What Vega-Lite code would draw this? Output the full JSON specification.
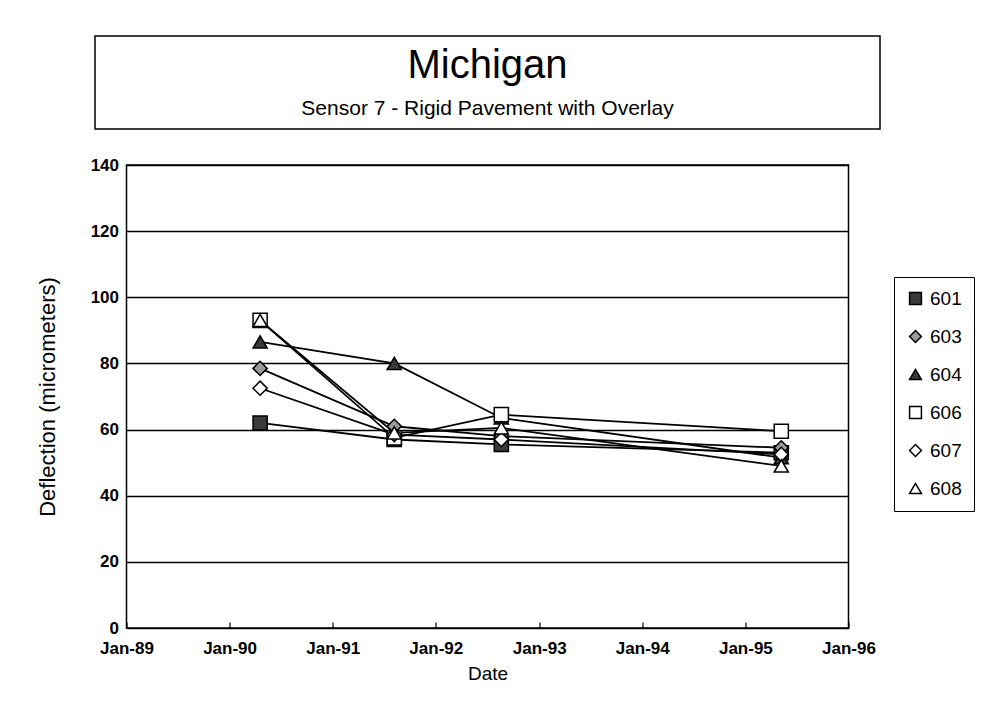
{
  "$schema": "https://vega.github.io/schema/vega-lite/v6.json",
  "padding": {"left": 35, "top": 35, "right": 5, "bottom": 5},
  "background": "white",
  "config": {
    "font": "Liberation Sans",
    "view": {"stroke": "black", "strokeWidth": 1.5},
    "axis": {"labelFont": "Liberation Sans", "titleFont": "Liberation Sans", "labelColor": "black", "titleColor": "black", "titleFontWeight": "normal", "labelFontWeight": "bold", "domainColor": "black", "tickColor": "black"},
    "legend": {"labelFont": "Liberation Sans", "labelColor": "black"}
  },
  "spacing": 36,
  "bounds": "flush",
  "center": true,
  "vconcat": [
    {
      "width": 785,
      "height": 93,
      "data": {"values": [
        {"part": "title", "text": "Michigan"},
        {"part": "subtitle", "text": "Sensor 7 - Rigid Pavement with Overlay"}
      ]},
      "layer": [
        {
          "transform": [{"filter": "datum.part === 'title'"}],
          "mark": {"type": "text", "fontSize": 40, "font": "Liberation Sans", "color": "black", "dy": 7, "baseline": "middle"},
          "encoding": {
            "y": {"field": "part", "type": "nominal", "scale": {"type": "point", "domain": ["title", "subtitle"], "padding": 0.5}, "axis": null},
            "text": {"field": "text", "type": "nominal"}
          }
        },
        {
          "transform": [{"filter": "datum.part === 'subtitle'"}],
          "mark": {"type": "text", "fontSize": 21, "font": "Liberation Sans", "color": "black", "dy": 3, "baseline": "middle"},
          "encoding": {
            "y": {"field": "part", "type": "nominal", "scale": {"type": "point", "domain": ["title", "subtitle"], "padding": 0.5}, "axis": null},
            "text": {"field": "text", "type": "nominal"}
          }
        }
      ]
    },
    {
      "width": 722,
      "height": 463,
      "data": {"values": [
        {"sensor": "601", "date": "1990-04-19", "deflection": 62},
        {"sensor": "601", "date": "1991-08-07", "deflection": 57},
        {"sensor": "601", "date": "1992-08-20", "deflection": 55.5},
        {"sensor": "601", "date": "1995-05-08", "deflection": 53},
        {"sensor": "603", "date": "1990-04-19", "deflection": 78.5},
        {"sensor": "603", "date": "1991-08-07", "deflection": 61},
        {"sensor": "603", "date": "1992-08-20", "deflection": 58},
        {"sensor": "603", "date": "1995-05-08", "deflection": 54.5},
        {"sensor": "604", "date": "1990-04-19", "deflection": 86.5},
        {"sensor": "604", "date": "1991-08-07", "deflection": 80},
        {"sensor": "604", "date": "1992-08-20", "deflection": 63.5},
        {"sensor": "604", "date": "1995-05-08", "deflection": 51.5},
        {"sensor": "606", "date": "1990-04-19", "deflection": 93},
        {"sensor": "606", "date": "1991-08-07", "deflection": 57.5},
        {"sensor": "606", "date": "1992-08-20", "deflection": 64.5},
        {"sensor": "606", "date": "1995-05-08", "deflection": 59.5},
        {"sensor": "607", "date": "1990-04-19", "deflection": 72.5},
        {"sensor": "607", "date": "1991-08-07", "deflection": 58.5},
        {"sensor": "607", "date": "1992-08-20", "deflection": 57},
        {"sensor": "607", "date": "1995-05-08", "deflection": 52.5},
        {"sensor": "608", "date": "1990-04-19", "deflection": 93},
        {"sensor": "608", "date": "1991-08-07", "deflection": 59},
        {"sensor": "608", "date": "1992-08-20", "deflection": 60.5},
        {"sensor": "608", "date": "1995-05-08", "deflection": 49}
      ]},
      "encoding": {
        "x": {
          "field": "date", "type": "temporal",
          "scale": {"type": "utc", "domain": [{"year": 1989, "month": 1, "date": 1, "utc": true}, {"year": 1996, "month": 1, "date": 1, "utc": true}]},
          "axis": {
            "title": "Date", "titleFontSize": 19, "titlePadding": 8,
            "labelFontSize": 17, "labelPadding": 18, "labelFlush": false,
            "labelExpr": "utcFormat(datum.value, '%b-%y')",
            "values": [
              {"year": 1989, "month": 1, "date": 1, "utc": true},
              {"year": 1990, "month": 1, "date": 1, "utc": true},
              {"year": 1991, "month": 1, "date": 1, "utc": true},
              {"year": 1992, "month": 1, "date": 1, "utc": true},
              {"year": 1993, "month": 1, "date": 1, "utc": true},
              {"year": 1994, "month": 1, "date": 1, "utc": true},
              {"year": 1995, "month": 1, "date": 1, "utc": true},
              {"year": 1996, "month": 1, "date": 1, "utc": true}
            ],
            "grid": false, "domain": false, "tickSize": -6, "tickWidth": 1.2
          }
        },
        "y": {
          "field": "deflection", "type": "quantitative",
          "scale": {"domain": [0, 140]},
          "axis": {
            "title": "Deflection (micrometers)", "titleFontSize": 22, "titlePadding": 31,
            "labelFontSize": 17, "labelPadding": 8,
            "values": [0, 20, 40, 60, 80, 100, 120, 140],
            "grid": true, "gridColor": "black", "gridWidth": 1.5, "gridOpacity": 1,
            "ticks": false, "domain": false
          }
        }
      },
      "layer": [
        {
          "mark": {"type": "line", "color": "black", "strokeWidth": 1.8},
          "encoding": {"detail": {"field": "sensor", "type": "nominal"}}
        },
        {
          "mark": {"type": "point", "filled": true, "size": 200, "stroke": "black", "strokeWidth": 1.5, "opacity": 1},
          "encoding": {
            "shape": {
              "field": "sensor", "type": "nominal",
              "scale": {"domain": ["601", "603", "604", "606", "607", "608"], "range": ["square", "diamond", "triangle-up", "square", "diamond", "triangle-up"]},
              "legend": {"orient": "none", "legendX": 799, "legendY": 241, "title": null, "strokeColor": "black", "fillColor": "white", "padding": 12, "labelFontSize": 19, "symbolSize": 140, "rowPadding": 18, "labelOffset": 5,
                "encode": {"symbols": {"update": {"stroke": {"value": "black"}, "strokeWidth": {"value": 1.5}}}}}
            },
            "fill": {
              "field": "sensor", "type": "nominal",
              "scale": {"domain": ["601", "603", "604", "606", "607", "608"], "range": ["#3a3a3a", "#9a9a9a", "#3a3a3a", "white", "white", "white"]},
              "legend": {"orient": "none", "legendX": 799, "legendY": 241, "title": null, "strokeColor": "black", "fillColor": "white", "padding": 12, "labelFontSize": 19, "symbolSize": 140, "rowPadding": 18, "labelOffset": 5,
                "encode": {"symbols": {"update": {"stroke": {"value": "black"}, "strokeWidth": {"value": 1.5}}}}}
            }
          }
        }
      ]
    }
  ]
}
